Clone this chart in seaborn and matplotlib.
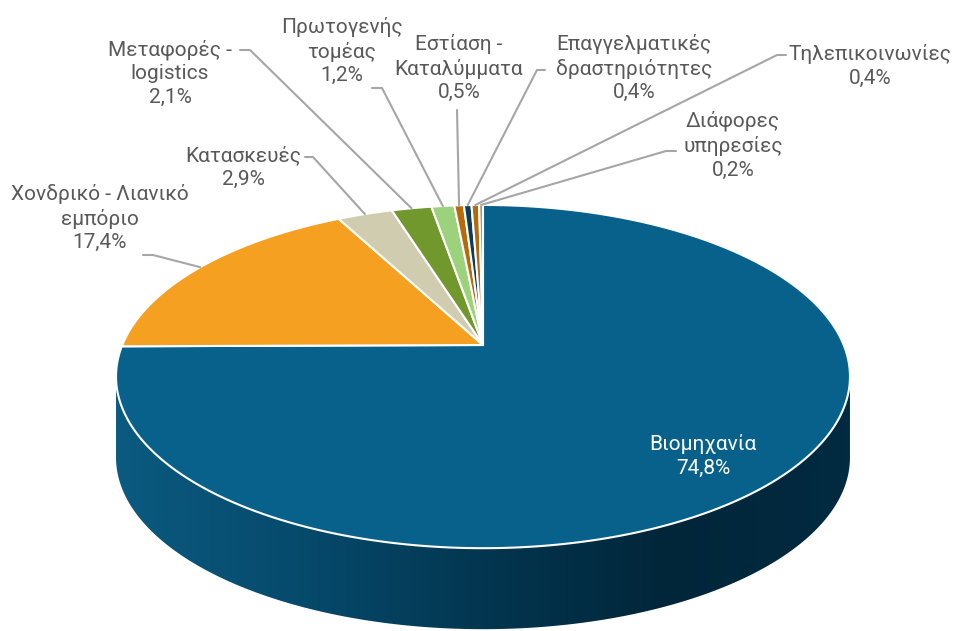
import numpy as np
import matplotlib
matplotlib.use('Agg')
import matplotlib.pyplot as plt
from matplotlib.patches import Polygon
from matplotlib.colors import LinearSegmentedColormap
import seaborn as sns

# データ
categories = ['Βιομηχανία', 'Χονδρικό - Λιανικό\nεμπόριο', 'Κατασκευές', 'Μεταφορές -\nlogistics',
              'Πρωτογενής\nτομέας', 'Εστίαση -\nΚαταλύμματα', 'Επαγγελματικές\nδραστηριότητες',
              'Τηλεπικοινωνίες', 'Διάφορες\nυπηρεσίες']
shares = [74.8, 17.4, 2.9, 2.1, 1.2, 0.5, 0.4, 0.4, 0.2]
colors = ['#07618B', '#F5A021', '#CFCCAF', '#71982D', '#9DD27D',
          '#B8690A', '#0D3C5B', '#B36A0C', '#A99567']

sns.set_theme(style='white')
plt.rcParams['font.family'] = ['Roboto', 'DejaVu Sans']

W, H = 956, 631
R = 360.7            # px per unit
CX, CY = 483, 345    # apex of the pie in px
K = 0.184            # perspective
C = 165.8 / R        # vertical squash
D = 81 / R           # depth of the side


def proj(theta_deg):
    t = np.radians(theta_deg)
    s = np.sin(t)
    return np.cos(t) / (1 + K * s), C * s / (1 + K * s)


def px(x, y):
    return (x - CX) / R, (CY - y) / R


fig = plt.figure(figsize=(W / 100, H / 100), dpi=100)
ax = fig.add_axes([0, 0, 1, 1])
ax.axis('off')

# 側面（グラデーション）
t_side = np.linspace(180 + np.degrees(np.arcsin(K)), 360 - np.degrees(np.arcsin(K)), 200)
top_x, top_y = proj(t_side)
side_pts = np.concatenate([np.column_stack([top_x, top_y]),
                           np.column_stack([top_x[::-1], top_y[::-1] - D])])
side_patch = Polygon(side_pts, closed=True, facecolor='none', edgecolor='none')
ax.add_patch(side_patch)
cmap = LinearSegmentedColormap.from_list('side', ['#0B5A80', '#064A6C', '#033650', '#01263A', '#022A40'])
grad = np.linspace(0, 1, 300).reshape(1, -1)
im = ax.imshow(grad, extent=[top_x.min(), top_x.max(), top_y.min() - D - 0.05, top_y.max() + 0.05],
               aspect='auto', cmap=cmap, zorder=1)
im.set_clip_path(side_patch)

# 上面
total = sum(shares)
start = 90.0
mids = []
for val, col in zip(shares, colors):
    span = 360 * val / total
    t = np.linspace(start, start - span, max(int(span * 2), 3))
    xs, ys = proj(t)
    pts = np.vstack([[0, 0], np.column_stack([xs, ys])])
    ax.add_patch(Polygon(pts, closed=True, facecolor=col, edgecolor='white', lw=1.5, zorder=2))
    mids.append(start - span / 2)
    start -= span

ax.set_xlim(-CX / R, (W - CX) / R)
ax.set_ylim(-(H - CY) / R, CY / R)

# ラベル
label_pos = [(703, 456), (100, 218), (243, 167), (170, 73), (342, 51),
             (459, 68), (634, 68), (870, 66), (733, 145)]
stubs = [None, [(143, 255), (153, 255)], [(305, 157), (313, 157)], [(240, 50), (250, 50)],
         [(372, 88), (382, 88)], [(457, 110)], [(545, 70), (537, 70)],
         [(786, 55), (777, 55)], [(676, 151), (666, 151)]]

for i, (cat, val) in enumerate(zip(categories, shares)):
    txt = f"{cat}\n{val:.1f}%".replace('.', ',')
    x, y = px(*label_pos[i])
    ax.text(x, y, txt, ha='center', va='center', fontsize=15, linespacing=1.3,
            color='white' if i == 0 else '#595959', zorder=5)
    if stubs[i] is not None:
        ex, ey = proj(mids[i])
        pts = [px(*p) for p in stubs[i]] + [(ex, ey)]
        ax.plot([p[0] for p in pts], [p[1] for p in pts], color='#A6A6A6', lw=1.5, zorder=3)

fig.savefig('out.png', dpi=100)
